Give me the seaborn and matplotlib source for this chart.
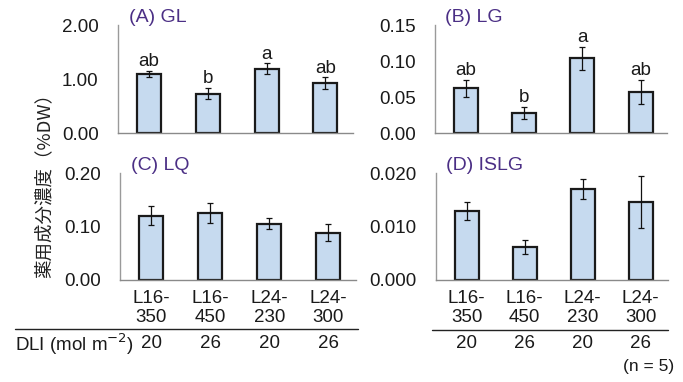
import matplotlib
matplotlib.use("Agg")
import matplotlib.pyplot as plt
import matplotlib.transforms as mtransforms
from matplotlib.lines import Line2D
import seaborn as sns
import pandas as pd

sns.set_theme(style="white")
plt.rcParams['font.family'] = ['Liberation Sans', 'Noto Sans CJK JP', 'DejaVu Sans']

treatments = ["L16-\n350", "L16-\n450", "L24-\n230", "L24-\n300"]
dli = ["20", "26", "20", "26"]

gl_mean = [1.09, 0.73, 1.19, 0.92]
gl_sd = [0.06, 0.10, 0.10, 0.11]
gl_sig = ["ab", "b", "a", "ab"]

lg_mean = [0.062, 0.028, 0.104, 0.057]
lg_sd = [0.012, 0.008, 0.016, 0.017]
lg_sig = ["ab", "b", "a", "ab"]

lq_mean = [0.120, 0.125, 0.105, 0.088]
lq_sd = [0.018, 0.018, 0.010, 0.016]

islg_mean = [0.0129, 0.0062, 0.0170, 0.0146]
islg_sd = [0.0017, 0.0013, 0.0019, 0.0048]

W, H = 683, 382
fig = plt.figure(figsize=(W / 100, H / 100), dpi=100)

title_color = "#4b2f85"
bar_color = "#c6daef"
FS = 13.5
TXT = "#1a1a1a"


def px_axes(left, right, top, bottom):
    return fig.add_axes([left / W, 1 - bottom / H, (right - left) / W, (bottom - top) / H])


panels = [
    dict(rect=(118, 353, 25, 133), mean=gl_mean, sd=gl_sd, sig=gl_sig, ymax=2.0,
         ticks=[0, 1.0, 2.0], fmt="{:.2f}", title="(A) GL", bottom=False),
    dict(rect=(435, 668, 25, 133), mean=lg_mean, sd=lg_sd, sig=lg_sig, ymax=0.15,
         ticks=[0, 0.05, 0.10, 0.15], fmt="{:.2f}", title="(B) LG", bottom=False),
    dict(rect=(120, 356, 173, 280), mean=lq_mean, sd=lq_sd, sig=None, ymax=0.20,
         ticks=[0, 0.10, 0.20], fmt="{:.2f}", title="(C) LQ", bottom=True),
    dict(rect=(436, 668, 173, 280), mean=islg_mean, sd=islg_sd, sig=None, ymax=0.020,
         ticks=[0, 0.010, 0.020], fmt="{:.3f}", title="(D) ISLG", bottom=True),
]

for p in panels:
    ax = px_axes(*p["rect"])
    df = pd.DataFrame({"treat": treatments, "val": p["mean"]})
    sns.barplot(data=df, x="treat", y="val", order=treatments, ax=ax,
                color=bar_color, saturation=1, edgecolor="#1a1a1a", linewidth=1.6,
                width=0.41, errorbar=None)
    xs = list(range(len(treatments)))
    ax.errorbar(xs, p["mean"], yerr=p["sd"], fmt="none", ecolor="#111111",
                elinewidth=0.9, capsize=2.5, capthick=0.9)
    if p["sig"]:
        for x, m, s, lab in zip(xs, p["mean"], p["sd"], p["sig"]):
            ax.annotate(lab, (x, m + s), xytext=(0, 0.5), textcoords="offset points",
                        ha="center", va="bottom", fontsize=FS, color=TXT)
    ax.set_xlim(-0.53, 3.47)
    ax.set_ylim(0, p["ymax"])
    ax.set_yticks(p["ticks"])
    ax.set_yticklabels([p["fmt"].format(t) for t in p["ticks"]], fontsize=FS, color=TXT)
    ax.tick_params(axis="y", length=0, pad=14)
    ax.set_xlabel("")
    ax.set_ylabel("")
    for side in ["top", "right"]:
        ax.spines[side].set_visible(False)
    ax.spines["left"].set_color("#9a9a9a")
    ax.spines["left"].set_linewidth(1.0)
    ax.spines["bottom"].set_color("#8a8a8a")
    ax.spines["bottom"].set_linewidth(1.0)
    ax.spines["bottom"].set_linestyle((0, (2, 1)))
    if p["bottom"]:
        ax.set_xticks(xs)
        ax.set_xticklabels(treatments, fontsize=FS, color=TXT, linespacing=1.15)
        ax.tick_params(axis="x", length=0, pad=7)
        trans = mtransforms.blended_transform_factory(ax.transData, fig.transFigure)
        for x, d in zip(xs, dli):
            ax.text(x, 1 - 344 / H, d, transform=trans, ha="center", va="center",
                    fontsize=FS, color=TXT)
    else:
        ax.set_xticks([])
    ax.text(0.045, 1.07, p["title"], transform=ax.transAxes, ha="left", va="center",
            fontsize=14, color=title_color)
    ax.patch.set_alpha(0)

# DLI separator lines
fig.add_artist(Line2D([15 / W, 358 / W], [1 - 329 / H, 1 - 329 / H], color="#222222", lw=1.0))
fig.add_artist(Line2D([432 / W, 668 / W], [1 - 330 / H, 1 - 330 / H], color="#222222", lw=1.0))

fig.text(15 / W, 1 - 344 / H, "DLI (mol m$^{\\mathsf{-2}}$)", ha="left", va="center",
         fontsize=FS, color=TXT)
fig.text(674 / W, 1 - 366 / H, "(n = 5)", ha="right", va="center",
         fontsize=12.5, color=TXT)

fig.text(45 / W, 1 - 181 / H, "薬用成分濃度（%DW）", rotation=90, ha="center", va="center",
         fontsize=13.3, color="#222222", family=['Noto Sans CJK JP', 'DejaVu Sans'])

fig.savefig("out.png", dpi=100, facecolor="white")
